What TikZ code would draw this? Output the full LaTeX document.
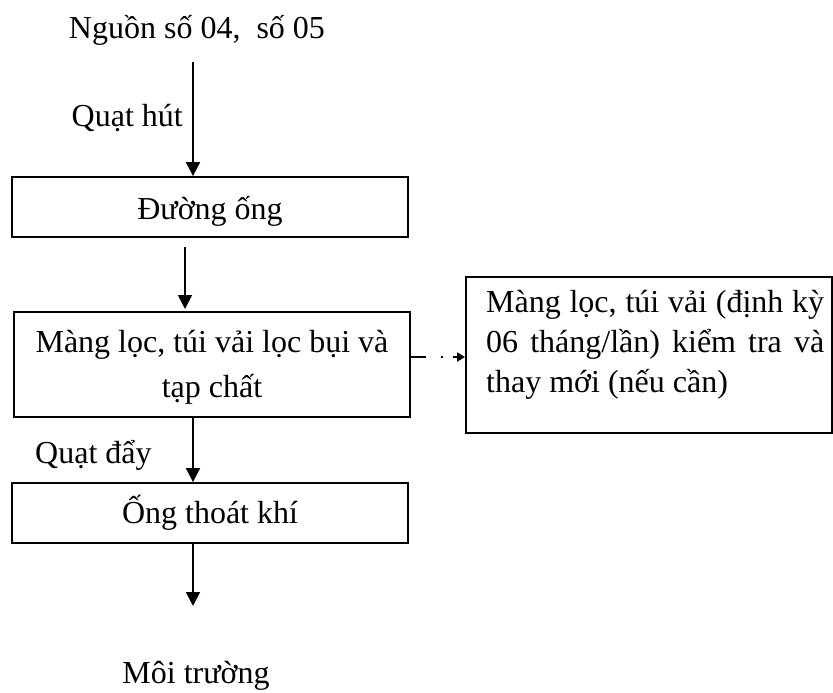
\documentclass[tikz,border=0pt]{standalone}
\usepackage{fontspec}
\setmainfont{Liberation Serif}
\usetikzlibrary{arrows.meta}
\begin{document}
\begin{tikzpicture}[x=1pt,y=-1pt,
  box/.style={draw,line width=1.8pt,inner sep=0pt,font=\fontsize{32}{45}\selectfont},
  lbl/.style={inner sep=0pt,font=\fontsize{32}{40}\selectfont},
  arr/.style={line width=1.8pt,-{Triangle[length=14pt,width=14pt]}},
  dasharr/.style={line width=1.8pt,dash pattern=on 15pt off 15pt on 2pt off 10pt,-{Triangle[length=8pt,width=9pt]}}]
\useasboundingbox (0,0) rectangle (833,693);
\node[lbl] (src) at (197,30) {Nguồn số 04,\ \ số 05};
\node[lbl,anchor=east] (qh) at (183,118) {Quạt hút};
\node[box,minimum width=396pt,minimum height=60pt,text height=28pt,text depth=4pt] (b1) at (210,207) {Đường ống};
\node[box,minimum width=396pt,minimum height=105pt] (b2) at (212,364.5) {};
\node[lbl,align=center,font=\fontsize{32}{45}\selectfont] (t2) at (212,367) {Màng lọc, túi vải lọc bụi và\\tạp chất};
\node[box,minimum width=366pt,minimum height=156pt,anchor=north west] (b3) at (465,276) {};
\node[lbl,anchor=north west,text width=338pt,align=justify] (t3) at (486,290) {Màng lọc, túi vải (định kỳ\linebreak 06 tháng/lần) kiểm tra và\linebreak thay mới (nếu cần)};
\node[lbl,anchor=west] (qd) at (35,455) {Quạt đẩy};
\node[box,minimum width=396pt,minimum height=60pt] (b4) at (210,513) {Ống thoát khí};
\node[lbl] (mt) at (196,676) {Môi trường};
\coordinate (a1s) at (193,62);
\coordinate (a2s) at (185,247);
\coordinate (a2e) at (185,309);
\coordinate (a4e) at (193,606);
\draw[arr] (a1s) -- (a1s |- b1.north);
\draw[arr] (a2s) -- (a2e);
\draw[arr] (b2.south -| a1s) -- (b4.north -| a1s);
\draw[arr] (b4.south -| a4e) -- (a4e);
\draw[dasharr] (b2.east |- 0,357) -- (b3.west |- 0,357);
\end{tikzpicture}
\end{document}
